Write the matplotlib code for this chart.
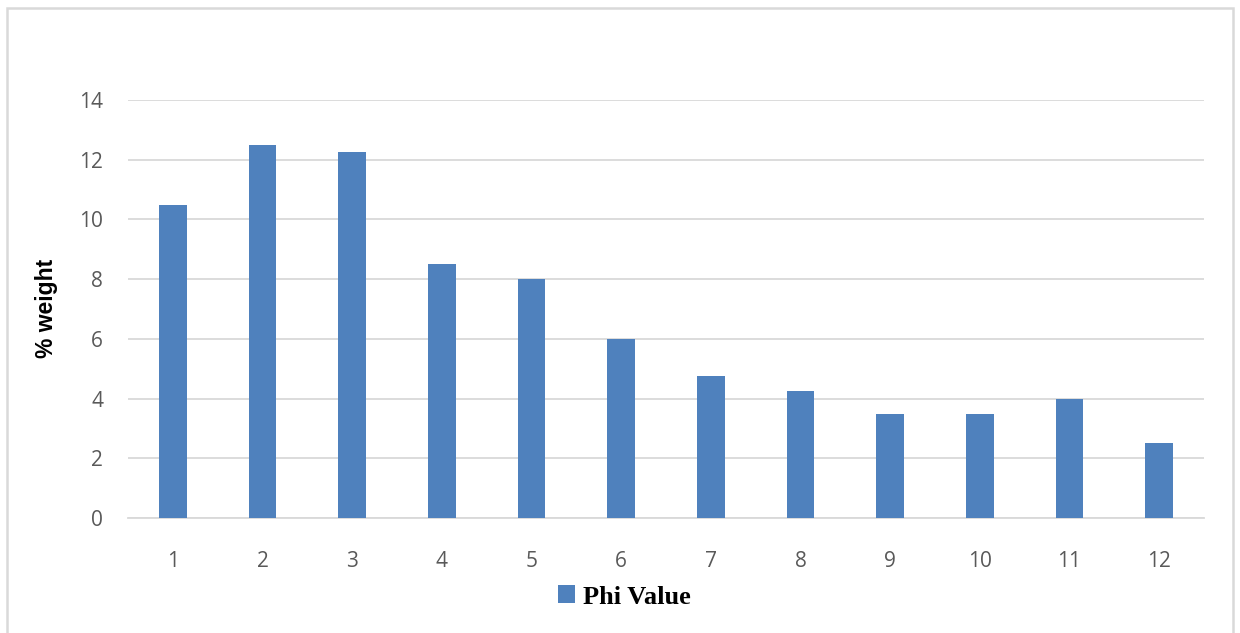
import matplotlib as mpl
mpl.use('Agg')

import matplotlib.pyplot as plt
from matplotlib.patches import Rectangle
import numpy as np

# Phi value distribution (% weight)
phi_labels = ['1', '2', '3', '4', '5', '6', '7', '8', '9', '10', '11', '12']
weights = [10.5, 12.5, 12.25, 8.5, 8.0, 6.0, 4.75, 4.25, 3.5, 3.5, 4.0, 2.5]
y_ticks = [0, 2, 4, 6, 8, 10, 12, 14]

bar_color = '#4F81BD'
grid_color = '#D9D9D9'
tick_color = '#595959'

W, H = 1240, 633
fig = plt.figure(figsize=(W / 100, H / 100), dpi=100)
fig.patch.set_facecolor('white')

# plot area in pixel terms: left 128, right 1204, top 100, bottom 518
ax = fig.add_axes([128 / W, 1 - 518 / H, (1204 - 128) / W, (518 - 100) / H])

x = np.arange(len(weights))
ax.bar(x, weights, width=0.31, color=bar_color, zorder=3,
       label='Phi Value')

ax.set_xlim(-0.5, len(weights) - 0.5)
ax.set_ylim(0, 14)
ax.set_yticks(y_ticks)
ax.set_xticks(x)
ax.set_xticklabels(phi_labels)

ax.grid(axis='y', color=grid_color, linewidth=1.3, zorder=0)
for side in ['top', 'right', 'left']:
    ax.spines[side].set_visible(False)
ax.spines['bottom'].set_color(grid_color)
ax.spines['bottom'].set_linewidth(1.3)
ax.tick_params(axis='both', length=0, labelsize=15, labelcolor=tick_color)
ax.tick_params(axis='y', pad=18)
ax.tick_params(axis='x', pad=23.5)
for lbl in ax.get_xticklabels() + ax.get_yticklabels():
    lbl.set_family('Open Sans')

fig.text(47 / W, 1 - 308 / H, '% weight', rotation=90, ha='center', va='center',
         fontsize=16.5, fontweight='bold', family='Liberation Sans', color='black')

leg = fig.legend(loc='center', bbox_to_anchor=(624 / W, 1 - 597 / H),
                 frameon=False, handlelength=0.65, handleheight=0.65,
                 handletextpad=0.3,
                 prop={'family': 'Liberation Serif', 'weight': 'bold', 'size': 19})

# outer chart border
fig.patches.append(Rectangle((7 / W, -0.05), (1233 - 7) / W, 1 - 8 / H + 0.05,
                             transform=fig.transFigure, fill=False,
                             edgecolor='#D9D9D9', linewidth=1.8))

fig.savefig('out.png', dpi=100, facecolor=fig.get_facecolor())
